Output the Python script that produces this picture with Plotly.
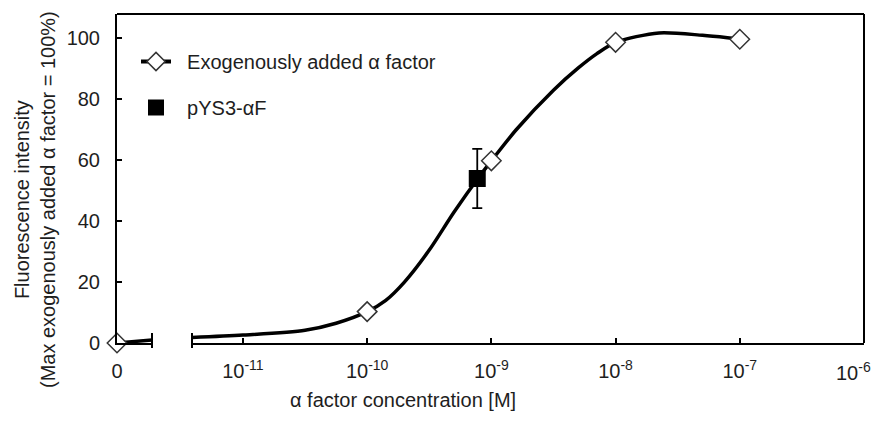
import plotly.graph_objects as go

# ---- data ----
exo_conc = [1e-10, 1e-9, 1e-8, 1e-7]          # exogenously added alpha factor [M]
exo_fluor = [10.3, 59.8, 98.7, 99.7]
zero_fluor = 0.0                               # value at 0 M

# fitted curve (log-scale part)
curve_conc = [10**-11.41, 1e-11, 10**-10.5, 10**-10.25, 1e-10, 10**-9.85, 10**-9.7,
              10**-9.5, 10**-9.3, 10**-9.1, 1e-9, 10**-8.8, 10**-8.5,
              10**-8.3, 10**-8.15, 1e-8, 10**-7.65, 10**-7.3, 10**-7.1, 1e-7]
curve_fluor = [1.8, 2.6, 4.2, 6.5, 10.3, 14.0, 20.0, 30.5, 43.0, 54.5, 59.8,
               70.0, 83.0, 90.3, 95.0, 98.7, 101.8, 101.0, 100.2, 99.7]
# curve over the linear (zero) part of the broken axis
curve0_x = [0, 1]
curve0_y = [0.0, 1.0]

pys_conc = [7.7e-10]
pys_fluor = [54.0]
pys_err = [9.7]

xtick_vals = [1e-11, 1e-10, 1e-9, 1e-8, 1e-7, 1e-6]
xtick_text = ["10<sup>-11</sup>", "10<sup>-10</sup>", "10<sup>-9</sup>",
              "10<sup>-8</sup>", "10<sup>-7</sup>", "10<sup>-6</sup>"]
ytick_vals = [0, 20, 40, 60, 80, 100]

FONT = "Liberation Sans, Arial, sans-serif"
TXT = "#1e1e1e"
FS = 20
NB = "\u00a0\u00a0"

fig = go.Figure()

fig.add_trace(go.Scatter(x=curve0_x, y=curve0_y, xaxis="x", yaxis="y", mode="lines",
                         line=dict(color="black", width=3.5), showlegend=False,
                         cliponaxis=False))
fig.add_trace(go.Scatter(x=curve_conc, y=curve_fluor, xaxis="x2", yaxis="y", mode="lines",
                         line=dict(color="black", width=3.5, shape="spline", smoothing=0.8),
                         showlegend=False, cliponaxis=False))
fig.add_trace(go.Scatter(x=[0], y=[zero_fluor], xaxis="x", yaxis="y", mode="markers",
                         marker=dict(symbol="diamond", size=15, color="white",
                                     line=dict(color="#333", width=1.5)),
                         showlegend=False, cliponaxis=False))
fig.add_trace(go.Scatter(x=exo_conc, y=exo_fluor, xaxis="x2", yaxis="y", mode="markers",
                         marker=dict(symbol="diamond", size=15, color="white",
                                     line=dict(color="#333", width=1.5)),
                         showlegend=False, cliponaxis=False))
# legend entry (line + open diamond)
fig.add_trace(go.Scatter(x=[None], y=[None], xaxis="x2", yaxis="y", mode="lines+markers",
                         name=NB + "Exogenously added α factor", legendgroup="a",
                         line=dict(color="black", width=4),
                         marker=dict(symbol="diamond", size=14, color="white",
                                     line=dict(color="#333", width=1.5))))
fig.add_trace(go.Scatter(x=pys_conc, y=pys_fluor, xaxis="x2", yaxis="y", mode="markers",
                         name=NB + "pYS3-αF", legendgroup="b",
                         error_y=dict(type="data", array=pys_err, color="black",
                                      thickness=1.8, width=5),
                         marker=dict(symbol="square", size=17, color="black"),
                         cliponaxis=False))

L, R, T, B = 117, 864, 14, 343
W, H = 873, 421
pw, ph = R - L, B - T

axis_common = dict(showline=True, linecolor="black", linewidth=2, showgrid=False,
                   zeroline=False, automargin=False,
                   tickfont=dict(family=FONT, size=FS, color=TXT))

fig.update_layout(
    width=W, height=H,
    margin=dict(l=L, r=W - R, t=T, b=H - B, pad=0),
    paper_bgcolor="white", plot_bgcolor="white",
    font=dict(family=FONT, size=FS, color=TXT),
    xaxis=dict(domain=[0, 35 / pw], range=[0, 1], tickvals=[0], ticktext=["0"],
               ticks="", anchor="y", ticklabelstandoff=9, **axis_common),
    xaxis2=dict(domain=[75 / pw, 1], type="log", range=[-11.41, -6],
                tickvals=xtick_vals[:-1], ticktext=xtick_text[:-1], ticks="inside",
                ticklen=5, tickwidth=2, tickcolor="black", anchor="y",
                ticklabelstandoff=9, **axis_common),
    yaxis=dict(range=[0, 108], tickvals=ytick_vals, ticks="inside", ticklen=5,
               tickwidth=2, tickcolor="black", anchor="x", ticklabelstandoff=11,
               **axis_common),
    showlegend=True,
    legend=dict(x=(136 - L) / pw, y=(B - 42) / ph, xanchor="left", yanchor="top",
                bgcolor="rgba(0,0,0,0)", traceorder="grouped", tracegroupgap=17,
                font=dict(family=FONT, size=FS, color=TXT), itemsizing="trace"),
)

# last tick label (sits just inside the right edge in the reference)
fig.add_annotation(text=xtick_text[-1], xref="x2", yref="paper", x=-6, y=0,
                   yshift=-14, xshift=-11, yanchor="top", xanchor="center",
                   showarrow=False, font=dict(family=FONT, size=FS, color=TXT))

# frame: top and right edges
fig.add_shape(type="line", xref="paper", yref="paper", x0=0, x1=1, y0=1, y1=1,
              line=dict(color="black", width=2))
fig.add_shape(type="line", xref="paper", yref="paper", x0=1, x1=1, y0=0, y1=1,
              line=dict(color="black", width=2))
# axis break bars
for xr in ["x domain", "x2 domain"]:
    xv = 1 if xr == "x domain" else 0
    fig.add_shape(type="line", xref=xr, yref="paper", x0=xv, x1=xv,
                  y0=-5 / ph, y1=10 / ph, line=dict(color="black", width=2))

# axis titles
fig.add_annotation(text="α factor concentration [M]", xref="paper", yref="paper",
                   x=(403 - L) / pw, y=(B - 400) / ph, showarrow=False,
                   xanchor="center", yanchor="middle",
                   font=dict(family=FONT, size=FS, color=TXT))
fig.add_annotation(text="Fluorescence intensity<br>(Max exogenously added α factor = 100%)",
                   xref="paper", yref="paper", x=(35 - L) / pw, y=(B - 200) / ph,
                   showarrow=False, textangle=-90, xanchor="center", yanchor="middle",
                   font=dict(family=FONT, size=FS, color=TXT))

fig.write_html("out.html", config={"displayModeBar": False},
               post_script="document.body.style.margin='0';")
